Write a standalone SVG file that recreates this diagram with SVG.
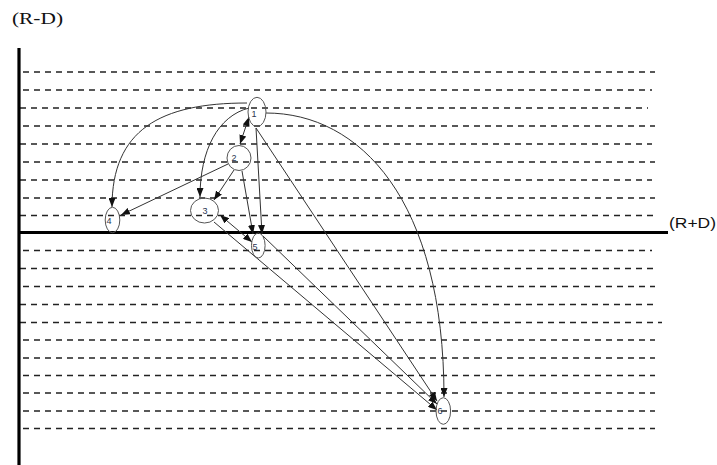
<svg xmlns="http://www.w3.org/2000/svg" width="717" height="465" viewBox="0 0 717 465">
<style>
.dash{stroke:#222;stroke-width:1.4;stroke-dasharray:6 5;fill:none}
.axis{stroke:#000;stroke-width:3.2;fill:none}
.node{fill:none;stroke:#555;stroke-width:1}
.lbl{font-family:"Liberation Sans",Arial,sans-serif;font-size:9px;fill:#2a3550;text-anchor:middle}
.edge{stroke:#333;stroke-width:1;fill:none;marker-end:url(#arr)}
.both{marker-start:url(#arr)}
.ax{font-family:"Liberation Sans",Arial,sans-serif;font-size:14px;fill:#111}
.ay{font-family:"Liberation Serif","Times New Roman",serif;font-size:17px;fill:#111}
</style>
<defs>
<marker id="arr" markerUnits="userSpaceOnUse" markerWidth="9" markerHeight="7" refX="9" refY="3.5" orient="auto-start-reverse">
<path d="M0,0 L9,3.5 L0,7 z" fill="#111"/>
</marker>
</defs>
<rect width="717" height="465" fill="#fff"/>
<g id="grid">
<line class="dash" x1="23" y1="72" x2="655" y2="72"/>
<line class="dash" x1="23" y1="90" x2="652" y2="90"/>
<line class="dash" x1="20" y1="108" x2="648" y2="108"/>
<line class="dash" x1="23" y1="126" x2="655" y2="126"/>
<line class="dash" x1="20" y1="144" x2="652" y2="144"/>
<line class="dash" x1="23" y1="162" x2="655" y2="162"/>
<line class="dash" x1="20" y1="180" x2="652" y2="180"/>
<line class="dash" x1="23" y1="198" x2="655" y2="198"/>
<line class="dash" x1="20" y1="215.5" x2="657" y2="215.5"/>
<line class="dash" x1="23" y1="250.5" x2="652" y2="250.5"/>
<line class="dash" x1="20" y1="268.5" x2="657" y2="268.5"/>
<line class="dash" x1="23" y1="286.5" x2="655" y2="286.5"/>
<line class="dash" x1="20" y1="304.5" x2="657" y2="304.5"/>
<line class="dash" x1="20" y1="322.5" x2="662" y2="322.5"/>
<line class="dash" x1="23" y1="340" x2="655" y2="340"/>
<line class="dash" x1="23" y1="358" x2="655" y2="358"/>
<line class="dash" x1="23" y1="375.5" x2="655" y2="375.5"/>
<line class="dash" x1="23" y1="393" x2="655" y2="393"/>
<line class="dash" x1="23" y1="411" x2="655" y2="411"/>
<line class="dash" x1="23" y1="428.5" x2="655" y2="428.5"/>
</g>
<g id="axes">
<line class="axis" x1="19" y1="48" x2="19" y2="465"/>
<line class="axis" x1="19" y1="232.5" x2="668" y2="232.5"/>
<text class="ay" x="12" y="24" textLength="51" lengthAdjust="spacingAndGlyphs">(R-D)</text>
<text class="ax" x="669" y="228" textLength="47" lengthAdjust="spacingAndGlyphs">(R+D)</text>
</g>
<g id="connectors">
<path class="edge" d="M247,103 C160,103 112,130 112,207"/>
<path class="edge both" d="M249,117 L240,144"/>
<path class="edge" d="M249,108 C218,116 200,150 200,197"/>
<path class="edge" d="M228,164 L121,215"/>
<path class="edge" d="M234,170 L214,200"/>
<path class="edge" d="M242,171 L253,234"/>
<path class="edge" d="M256,128 L262,234"/>
<path class="edge both" d="M220,215 L252,242"/>
<path class="edge" d="M214,222 L437,410"/>
<path class="edge" d="M263,236 L437,404"/>
<path class="edge" d="M256,128 L437,401"/>
<path class="edge" d="M266,113 C360,113 444,200 444,397"/>
</g>
<g id="node1"><ellipse class="node" cx="257" cy="112" rx="9" ry="14.7"/><text class="lbl" x="254" y="117">1</text></g>
<g id="node2"><ellipse class="node" cx="239" cy="158" rx="12" ry="12.5"/><text class="lbl" x="234" y="161">2</text></g>
<g id="node3"><ellipse class="node" cx="204.5" cy="210.5" rx="14" ry="12.5"/><text class="lbl" x="205" y="214">3</text></g>
<g id="node4"><ellipse class="node" cx="112.5" cy="220" rx="7.3" ry="12.7"/><text class="lbl" x="109" y="224">4</text></g>
<g id="node5"><ellipse class="node" cx="258.3" cy="245.5" rx="6.8" ry="12.5"/><text class="lbl" x="255" y="250">5</text></g>
<g id="node6"><ellipse class="node" cx="443.3" cy="411" rx="7.3" ry="13.3"/><text class="lbl" x="440" y="414">6</text></g>
</svg>
